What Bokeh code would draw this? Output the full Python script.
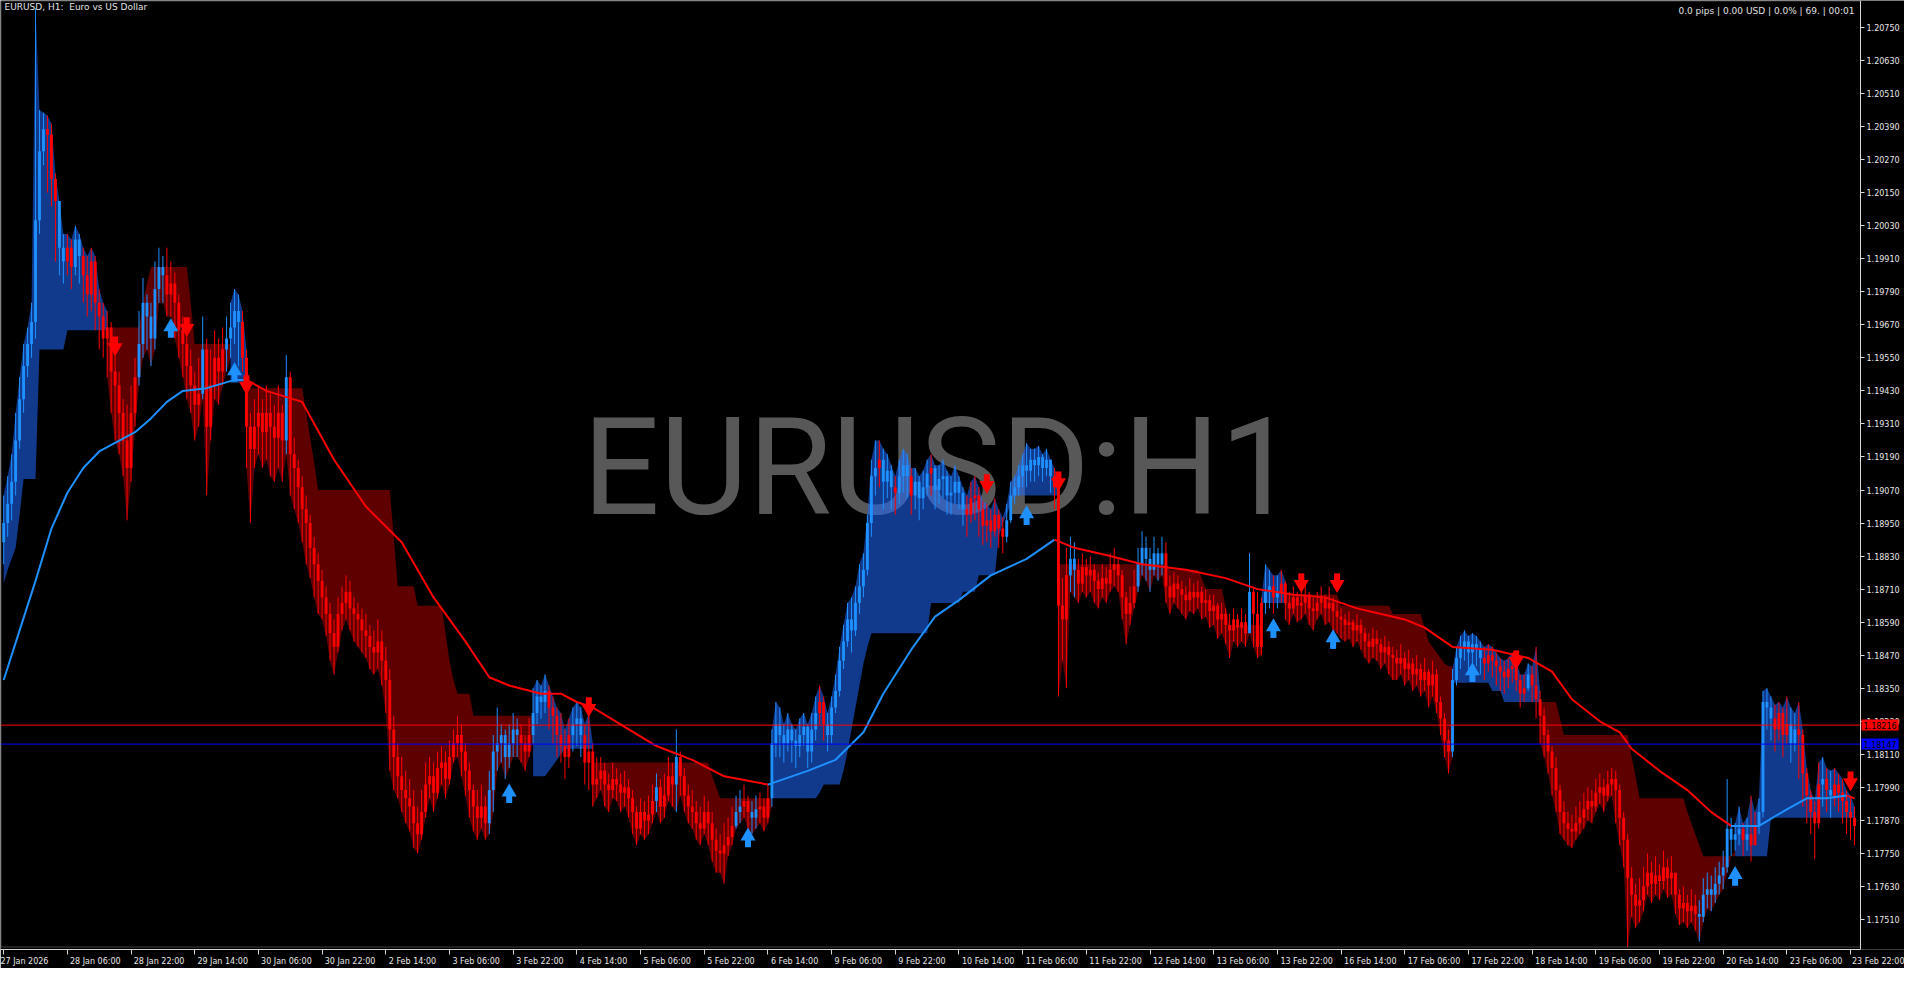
import numpy as np
from bokeh.plotting import figure
from bokeh.models import (Range1d, LinearAxis, FixedTicker, NumeralTickFormatter, Label, BoxAnnotation,
                          ColumnDataSource)
from bokeh.embed import file_html
from bokeh.resources import INLINE

# ---------------- data (prices given in 1/10000 units) ----------------
open0_pts = 11888
close_pts = [
    11895, 11902, 11910, 11925, 11940, 11952, 11960, 11968, 12005, 12030,
    12038, 12036, 12020, 12012, 11995, 11990, 11995, 11988, 11998, 11992,
    11985, 11978, 11990, 11975, 11970, 11962, 11966, 11950, 11945, 11935,
    11925, 11915, 11935, 11948, 11960, 11975, 11970, 11962, 11980, 11988,
    11985, 11978, 11982, 11975, 11965, 11960, 11952, 11945, 11938, 11942,
    11958, 11930, 11945, 11955, 11950, 11958, 11962, 11966, 11972, 11968,
    11955, 11930, 11922, 11930, 11935, 11928, 11935, 11930, 11926, 11935,
    11925, 11948, 11920, 11915, 11908, 11900, 11895, 11886, 11880, 11874,
    11868, 11862, 11855, 11850, 11862, 11866, 11870, 11864, 11862, 11860,
    11856, 11854, 11850, 11848, 11852, 11845, 11838, 11820, 11810, 11803,
    11798, 11795, 11792, 11786, 11782, 11790, 11800, 11803, 11797, 11806,
    11808, 11802, 11810, 11815, 11818, 11812, 11805, 11798, 11792, 11788,
    11792, 11786, 11798, 11812, 11815, 11818, 11810, 11815, 11820, 11818,
    11815, 11812, 11818, 11826, 11832, 11830, 11834, 11828, 11825, 11818,
    11814, 11810, 11818, 11822, 11824, 11818, 11808, 11812, 11800, 11802,
    11805, 11800, 11798, 11802, 11800, 11797, 11799, 11795, 11790, 11784,
    11790, 11787, 11789, 11794, 11799, 11792, 11796, 11803, 11800, 11810,
    11803, 11796, 11792, 11790, 11786, 11784, 11790, 11786, 11780, 11776,
    11775, 11778, 11781, 11785, 11790, 11792, 11794, 11790, 11788, 11791,
    11792, 11788, 11795, 11815, 11822, 11818, 11815, 11820, 11816, 11814,
    11818, 11821, 11812, 11820, 11826, 11830, 11822, 11818, 11828, 11834,
    11845, 11852, 11860, 11856, 11866, 11872, 11878, 11895, 11912, 11915,
    11918, 11910, 11914, 11908, 11906, 11912, 11916, 11912, 11905, 11910,
    11904, 11908, 11913, 11915, 11907, 11911, 11912, 11905, 11906, 11910,
    11906, 11900, 11898, 11904, 11905, 11900, 11894, 11896, 11892, 11898,
    11893, 11890, 11896, 11905, 11908, 11912, 11916, 11914, 11918, 11916,
    11919, 11915, 11918, 11912, 11908, 11865, 11860, 11876, 11882, 11878,
    11873, 11879, 11876, 11878, 11874, 11871, 11875, 11873, 11878, 11880,
    11876, 11868, 11862, 11866, 11872, 11880, 11886, 11882, 11878, 11884,
    11880, 11884, 11872, 11868, 11873, 11871, 11869, 11867, 11870, 11868,
    11870, 11866, 11867, 11863, 11865, 11860, 11862, 11858, 11856, 11860,
    11857, 11859, 11855, 11870, 11862, 11850, 11866, 11870, 11872, 11868,
    11870, 11873, 11866, 11864, 11868, 11865, 11866, 11869, 11864, 11863,
    11866, 11868, 11864, 11866, 11863, 11861, 11860, 11858, 11859, 11856,
    11858, 11855, 11852, 11850, 11853, 11851, 11848, 11850, 11847, 11846,
    11844, 11846, 11842, 11844, 11840, 11842, 11838, 11841, 11836, 11840,
    11830, 11824, 11816, 11812, 11838, 11846, 11850, 11852, 11848, 11851,
    11849, 11846, 11844, 11847, 11845, 11843, 11841, 11839, 11842, 11843,
    11838, 11833, 11835, 11840, 11836, 11831, 11825, 11818, 11812, 11806,
    11798, 11790, 11786, 11784, 11783, 11786, 11788, 11791, 11794, 11792,
    11797, 11799, 11796, 11800, 11802, 11798, 11788, 11780, 11766, 11760,
    11756, 11758, 11763, 11768, 11764, 11767, 11765, 11770, 11766, 11768,
    11760, 11755, 11757, 11754, 11756, 11753, 11752, 11760, 11762, 11760,
    11764, 11767, 11770, 11784, 11780, 11782, 11784, 11780, 11782, 11778,
    11785, 11790, 11830, 11828, 11824, 11820, 11826, 11818, 11822, 11815,
    11820, 11818, 11804, 11796, 11790, 11786, 11800, 11802, 11798, 11796,
    11800, 11797, 11794, 11790, 11788, 11785,
]
high_pts = [
    11905, 11912, 11920, 11935, 11948, 11960, 11966, 11975, 12082, 12045,
    12044, 12043, 12040, 12022, 12012, 12000, 12000, 11998, 12003, 12000,
    11995, 11992, 11995, 11992, 11980, 11975, 11972, 11968, 11958, 11950,
    11940, 11938, 11945, 11955, 11972, 11984, 11978, 11975, 11990, 11995,
    11992, 11995, 11990, 11986, 11978, 11970, 11964, 11958, 11950, 11955,
    11970, 11962, 11958, 11965, 11962, 11966, 11970, 11975, 11980, 11978,
    11972, 11958, 11935, 11940, 11945, 11940, 11945, 11942, 11938, 11945,
    11938, 11956, 11950, 11926, 11918, 11912, 11905, 11898, 11890, 11884,
    11878, 11872, 11866, 11860, 11868, 11872, 11876, 11874, 11868, 11866,
    11864, 11862, 11858, 11856, 11860, 11856, 11850, 11842, 11825, 11815,
    11810, 11805, 11802, 11798, 11792, 11798, 11808, 11810, 11808, 11812,
    11814, 11812, 11816, 11820, 11825, 11822, 11815, 11808, 11800, 11798,
    11800, 11796, 11805, 11818, 11828, 11822, 11820, 11822, 11826, 11824,
    11822, 11818, 11824, 11835, 11838, 11836, 11840, 11836, 11832, 11828,
    11826, 11820, 11824, 11828, 11830, 11828, 11822, 11826, 11815, 11810,
    11810, 11808, 11804, 11808, 11806, 11804, 11805, 11802, 11798, 11792,
    11795, 11794, 11796, 11800, 11804, 11802, 11804, 11810, 11808, 11820,
    11812, 11806, 11800, 11798, 11794, 11792, 11796, 11794, 11790, 11784,
    11782, 11786, 11788, 11792, 11796, 11798, 11800, 11796, 11794, 11796,
    11797, 11795, 11800, 11820, 11830, 11828, 11822, 11826, 11822, 11820,
    11824, 11826, 11822, 11826, 11832, 11836, 11832, 11826, 11832, 11840,
    11850, 11858, 11866, 11868, 11872, 11880, 11884, 11898, 11918, 11925,
    11925, 11922, 11920, 11916, 11912, 11918, 11922, 11920, 11915, 11915,
    11912, 11914, 11918, 11920, 11916, 11916, 11918, 11914, 11912, 11916,
    11912, 11908, 11905, 11910, 11912, 11908, 11903, 11902, 11900, 11904,
    11900, 11897, 11902, 11910, 11912, 11916, 11920, 11924, 11922, 11922,
    11923, 11920, 11922, 11918, 11915, 11911, 11875, 11886, 11890, 11888,
    11882, 11884, 11882, 11883, 11880, 11877, 11880, 11879, 11884, 11886,
    11882, 11878, 11870, 11872, 11878, 11886, 11892, 11890, 11886, 11890,
    11886, 11890, 11888, 11876, 11877, 11876, 11874, 11872, 11875, 11873,
    11874, 11872, 11871, 11869, 11869, 11866, 11866, 11864, 11862, 11864,
    11862, 11864, 11862, 11884, 11872, 11870, 11868, 11880, 11878, 11876,
    11876, 11878, 11874, 11870, 11872, 11870, 11870, 11873, 11870, 11868,
    11870, 11872, 11869, 11872, 11868, 11866, 11864, 11862, 11863, 11860,
    11862, 11860, 11857, 11855, 11857, 11856, 11853, 11854, 11852, 11850,
    11849, 11851, 11848, 11849, 11846, 11847, 11844, 11846, 11842, 11845,
    11842, 11832, 11826, 11820, 11842, 11850, 11854, 11856, 11854, 11855,
    11854, 11852, 11850, 11851, 11850, 11848, 11846, 11845, 11846, 11848,
    11845, 11840, 11840, 11844, 11843, 11850, 11834, 11828, 11820, 11814,
    11810, 11800, 11794, 11790, 11789, 11792, 11794, 11797, 11799, 11798,
    11802, 11804, 11802, 11805, 11806, 11805, 11800, 11790, 11782, 11770,
    11764, 11766, 11770, 11775, 11772, 11774, 11771, 11776, 11773, 11774,
    11767, 11762, 11763, 11760, 11762, 11760, 11758, 11766, 11768, 11767,
    11770, 11772, 11776, 11802, 11788, 11786, 11792, 11786, 11788, 11796,
    11790, 11795, 11834, 11835, 11832, 11829, 11830, 11828, 11832, 11828,
    11826, 11830, 11820, 11806, 11798, 11794, 11808, 11810, 11806, 11805,
    11806, 11804, 11802, 11798, 11796, 11792,
]
low_pts = [
    11880, 11890, 11896, 11905, 11922, 11935, 11948, 11955, 11962, 12000,
    12025, 12015, 12010, 11990, 11985, 11982, 11985, 11980, 11985, 11982,
    11975, 11970, 11972, 11965, 11958, 11955, 11948, 11935, 11925, 11920,
    11912, 11896, 11910, 11930, 11945, 11955, 11958, 11952, 11958, 11975,
    11975, 11970, 11970, 11962, 11955, 11948, 11940, 11935, 11925, 11930,
    11940, 11905, 11925, 11940, 11938, 11945, 11950, 11955, 11960, 11952,
    11950, 11915, 11895, 11915, 11920, 11915, 11918, 11912, 11910, 11915,
    11910, 11920, 11905, 11900, 11895, 11888, 11880, 11875, 11868, 11862,
    11860, 11854, 11845, 11840, 11848, 11856, 11860, 11856, 11852, 11850,
    11848, 11846, 11842, 11840, 11842, 11836, 11826, 11805, 11798, 11795,
    11790, 11786, 11783, 11777, 11775, 11780, 11788, 11795, 11790, 11795,
    11800, 11795, 11800, 11808, 11810, 11803, 11796, 11788, 11783, 11780,
    11784, 11780, 11782, 11790, 11805, 11808, 11802, 11806, 11810, 11810,
    11808, 11805, 11810, 11815, 11822, 11824, 11826, 11820, 11815, 11810,
    11808, 11802, 11806, 11812, 11814, 11810, 11800, 11798, 11792, 11795,
    11798, 11792, 11790, 11795, 11794, 11790, 11792, 11788, 11782, 11778,
    11782, 11780, 11782, 11786, 11790, 11786, 11788, 11794, 11792, 11790,
    11796, 11790, 11786, 11784, 11780, 11778, 11782, 11778, 11772, 11768,
    11768, 11764, 11774, 11778, 11784, 11786, 11788, 11784, 11782, 11784,
    11786, 11783, 11786, 11792, 11810, 11810, 11808, 11812, 11808, 11806,
    11810, 11814, 11806, 11808, 11816, 11822, 11816, 11812, 11815, 11826,
    11832, 11842, 11850, 11848, 11854, 11862, 11868, 11876, 11890, 11905,
    11908, 11900, 11904, 11900, 11898, 11902, 11906, 11904, 11898, 11900,
    11896, 11900, 11905, 11905, 11900, 11902, 11904, 11898, 11898, 11902,
    11900, 11894, 11890, 11895, 11896, 11890, 11887, 11888, 11886, 11890,
    11886, 11884, 11888, 11895, 11902, 11905, 11908, 11908, 11910, 11910,
    11912, 11910, 11912, 11906, 11900, 11832, 11845, 11835, 11870, 11868,
    11866, 11870, 11868, 11870, 11866, 11864, 11868, 11866, 11870, 11872,
    11870, 11860, 11851, 11858, 11864, 11870, 11876, 11874, 11870, 11876,
    11874, 11876, 11866, 11862, 11866, 11864, 11862, 11860, 11863, 11862,
    11864, 11860, 11861, 11857, 11858, 11853, 11855, 11851, 11846, 11852,
    11850, 11852, 11850, 11856, 11850, 11846, 11847, 11862, 11864, 11862,
    11864, 11866, 11860, 11858, 11862, 11859, 11860, 11862, 11858, 11856,
    11860, 11862, 11858, 11859, 11856, 11855, 11853, 11852, 11853, 11850,
    11852, 11849, 11846, 11844, 11846, 11845, 11842, 11844, 11840, 11838,
    11838, 11840, 11836, 11838, 11834, 11836, 11832, 11834, 11828, 11832,
    11826, 11818, 11810, 11804, 11810, 11836, 11842, 11845, 11842, 11844,
    11843, 11840, 11838, 11841, 11839, 11836, 11834, 11833, 11835, 11837,
    11834, 11828, 11830, 11834, 11830, 11824, 11815, 11810, 11804, 11796,
    11790, 11782, 11780, 11778, 11777, 11780, 11782, 11784, 11787, 11786,
    11790, 11793, 11790, 11794, 11796, 11786, 11778, 11770, 11741, 11752,
    11748, 11750, 11754, 11760, 11757, 11760, 11758, 11762, 11759, 11760,
    11753, 11749, 11750, 11748, 11750, 11747, 11743, 11750, 11755, 11754,
    11757, 11760, 11762, 11768, 11774, 11776, 11778, 11774, 11776, 11772,
    11778, 11782, 11788, 11820, 11816, 11812, 11816, 11810, 11815, 11808,
    11812, 11802, 11792, 11786, 11782, 11773, 11784, 11792, 11790, 11788,
    11792, 11790, 11786, 11782, 11780, 11778,
]

# candle colour runs (first bar of each run, 'b' = blue bar, 'r' = red bar)
bar_col_start = [0, 11, 14, 16, 18, 20, 34, 41, 50, 51, 56, 60, 71, 72, 122, 130, 133, 137, 143, 146,
                 164, 165, 169, 170, 184, 186, 188, 190, 193, 205, 207, 220, 221, 224, 225, 228, 229,
                 233, 234, 242, 252, 264, 268, 270, 285, 292, 313, 314, 317, 319, 320, 321, 364, 372,
                 383, 384, 426, 437, 438, 439, 441, 445, 449, 451, 457, 458, 459, 460]
bar_col = ["b", "r"] * 34

# trend of the ribbon indicator (runs)
trend_start = [0, 26, 57, 61, 133, 148, 193, 265, 316, 322, 364, 386, 435]
trend_dir = ["up", "dn", "up", "dn", "up", "dn", "up", "dn", "up", "dn", "up", "dn", "up"]

# stepped stop level of the ribbon (runs, 1/10000 units)
level_start = [0, 1, 2, 3, 4, 5, 9, 16,
               26, 35, 36, 37, 47, 48,
               57,
               61, 76, 77, 78, 79, 98, 99, 104, 111, 112, 113, 114, 118,
               133, 137, 138, 139, 140, 141,
               148, 178, 179, 180,
               193, 205, 206, 211, 212, 213, 214, 215, 216, 217, 218, 233, 241, 245, 250, 251, 252, 253, 254,
               265, 293, 301, 302, 307, 308,
               316,
               322, 336, 349, 357, 358, 359, 360, 361, 362, 363,
               364, 374, 377,
               386, 391, 392, 409, 410, 411, 423, 424, 425, 426, 427,
               435, 444]
level_pts = [11873, 11878, 11882, 11886, 11898, 11911, 11958, 11965,
             11966, 11975, 11982, 11988, 11975, 11960,
             11946,
             11944, 11935, 11926, 11917, 11907, 11890, 11872, 11865, 11855, 11845, 11838, 11833, 11825,
             11803, 11805, 11807, 11809, 11811, 11813,
             11808, 11803, 11799, 11795,
             11795, 11797, 11800, 11805, 11812, 11820, 11828, 11836, 11844, 11850, 11855, 11866, 11870, 11876, 11890, 11895, 11898, 11902, 11905,
             11880, 11878, 11875, 11871, 11865, 11858,
             11866,
             11869, 11865, 11862, 11857, 11852, 11850, 11848, 11846, 11844, 11843,
             11837, 11834, 11830,
             11830, 11824, 11818, 11810, 11803, 11795, 11790, 11786, 11782, 11778, 11774,
             11774, 11788]

# moving average, read at these bars
ma_bar = [0, 4, 8, 12, 16, 20, 24, 33, 37, 41, 45, 51, 58, 61, 66, 75, 83, 91, 100, 108, 116, 122, 127,
          135, 140, 144, 148, 156, 164, 173, 181, 192, 202, 209, 216, 221, 228, 234, 240, 248, 257, 264,
          269, 278, 286, 297, 307, 315, 324, 332, 340, 352, 357, 364, 374, 383, 389, 394, 401, 406, 409,
          416, 423, 429, 434, 441, 448, 453, 458, 463, 465]
ma_pts = [11838, 11856, 11874, 11893, 11906, 11915, 11921, 11928, 11933, 11939, 11943, 11944, 11947, 11947,
          11943, 11939, 11918, 11901, 11888, 11868, 11852, 11839, 11836, 11833, 11833, 11830, 11828, 11821,
          11814, 11809, 11803, 11800, 11805, 11809, 11819, 11833, 11849, 11861, 11867, 11876, 11882, 11889,
          11886, 11883, 11880, 11878, 11875, 11871, 11869, 11868, 11864, 11860, 11857, 11850, 11849, 11846,
          11841, 11831, 11823, 11819, 11813, 11805, 11798, 11790, 11785, 11785, 11791, 11795, 11795, 11796,
          11795]
ma_col_start = [0, 61, 192, 264, 434, 463]
ma_col = ["b", "r", "b", "r", "b", "r"]

# signal arrows
up_bar = [42, 58, 127, 187, 257, 319, 334, 369, 435]
up_pts = [11965, 11949, 11796, 11780, 11897, 11856, 11852, 11840, 11766]
down_bar = [28, 46, 61, 147, 247, 265, 326, 335, 380, 464]
down_pts = [11960, 11967, 11946, 11829, 11910, 11911, 11874, 11874, 11846, 11802]

# axis labels
x_tick_bars = list(range(0, 465, 16))
x_tick_labels = ["27 Jan 2026", "28 Jan 06:00", "28 Jan 22:00", "29 Jan 14:00", "30 Jan 06:00",
                 "30 Jan 22:00", "2 Feb 14:00", "3 Feb 06:00", "3 Feb 22:00", "4 Feb 14:00",
                 "5 Feb 06:00", "5 Feb 22:00", "6 Feb 14:00", "9 Feb 06:00", "9 Feb 22:00",
                 "10 Feb 14:00", "11 Feb 06:00", "11 Feb 22:00", "12 Feb 14:00", "13 Feb 06:00",
                 "13 Feb 22:00", "16 Feb 14:00", "17 Feb 06:00", "17 Feb 22:00", "18 Feb 14:00",
                 "19 Feb 06:00", "19 Feb 22:00", "20 Feb 14:00", "23 Feb 06:00", "23 Feb 22:00"]
y_ticks = [round(1.17510 + 0.0012 * k, 5) for k in range(28)]
bid_price = 1.18216
ask_price = 1.18147
symbol_text = "EURUSD, H1:\u00a0 Euro vs US Dollar"
info_text = "0.0 pips | 0.00 USD | 0.0% | 69. | 00:01"
watermark_text = "EURUSD:H1"

# ---------------- derived arrays ----------------
N = len(close_pts)
idx = np.arange(N)


def runs(starts, vals, n):
    b = list(starts) + [n]
    out = []
    for k, v in enumerate(vals):
        out += [v] * (b[k + 1] - b[k])
    return out


close = np.array(close_pts) / 1e4
opn = np.concatenate([[open0_pts / 1e4], close[:-1]])
high = np.maximum.reduce([np.array(high_pts) / 1e4, opn, close])
low = np.minimum.reduce([np.array(low_pts) / 1e4, opn, close])
BLUE, RED = "#1e90ff", "#ff0000"
FILL_UP, FILL_UP_ALPHA, FILL_DN = "#1f69ff", 0.55, "#5e0000"
cols = [BLUE if c == "b" else RED for c in runs(bar_col_start, bar_col, N)]
level = np.array(runs(level_start, level_pts, N)) / 1e4

# ---------------- figure ----------------
W, H = 1904, 968
BB = 18
FW, FH = W, H - BB
CHART_W = 1860                        # width of the candle area, price scale to its right
X0 = -0.8
ppx = CHART_W / 467.3
X1 = X0 + FW / ppx
X_EDGE = X0 + CHART_W / ppx
Y0, Y1 = 1.17401, 1.20848
ppy = FH / (Y1 - Y0)

p = figure(width=W, height=H, output_backend="svg", toolbar_location=None,
           x_range=Range1d(X0, X1), y_range=Range1d(Y0, Y1),
           x_axis_location=None, y_axis_location=None,
           min_border_left=0, min_border_top=0, min_border_right=0, min_border_bottom=BB,
           background_fill_color="#000000", border_fill_color="#000000",
           outline_line_color=None)
p.grid.visible = False

AX_COL = "#d6d6d6"
LBL_COL = "#e8e8e8"
FONT = "DejaVu Sans"

yax = LinearAxis(ticker=FixedTicker(ticks=y_ticks), formatter=NumeralTickFormatter(format="0.00000"),
                 fixed_location=X_EDGE,
                 axis_line_color=AX_COL, major_tick_line_color=AX_COL, minor_tick_line_color=None,
                 major_tick_out=4, major_tick_in=0, major_label_standoff=2,
                 major_label_text_color=LBL_COL, major_label_text_font=FONT,
                 major_label_text_font_size="8px")
p.add_layout(yax, "right")

# bottom labels: pad with no-break spaces so that each label starts at its tick (as in MT5)
EM = {"0": .636, "1": .636, "2": .636, "3": .636, "4": .636, "5": .636, "6": .636, "7": .636, "8": .636,
      "9": .636, " ": .318, ":": .337, "J": .295, "a": .613, "n": .634, "F": .575, "e": .615, "b": .635}
XFS = 8.0
overrides = {}
for t, s in zip(x_tick_bars, x_tick_labels):
    w = sum(EM.get(ch, .6) for ch in s) * XFS
    n = 0 if t == x_tick_bars[0] else int(round((w + 6) / (0.318 * XFS)))
    overrides[t] = "\u00a0" * n + s
xax = LinearAxis(ticker=FixedTicker(ticks=x_tick_bars), major_label_overrides=overrides,
                 bounds=(X0, X_EDGE),
                 axis_line_color=AX_COL, major_tick_line_color=AX_COL, minor_tick_line_color=None,
                 major_tick_out=5, major_tick_in=0, major_label_standoff=2,
                 major_label_text_color=LBL_COL, major_label_text_font=FONT,
                 major_label_text_font_size="8px")
p.add_layout(xax, "below")

# chart box
p.add_layout(BoxAnnotation(left=X0 + 0.5 / ppx, right=X_EDGE, top=Y1 - 0.5 / ppy, bottom=Y0 + 2.5 / ppy,
                           fill_color=None, line_color=AX_COL, line_width=1))

# watermark (drawn first; the blue ribbon lets it show through)
p.add_layout(Label(x=X0 + 939 / ppx, y=Y1 - 467 / ppy, text=watermark_text,
                   text_font="Roboto", text_font_size="136px",
                   text_color="#585858", text_align="center", text_baseline="middle", level="underlay"))

# ribbon fills
b = trend_start + [N]
for k, d in enumerate(trend_dir):
    s, e = b[k], b[k + 1]
    e2 = min(e, N - 1)
    xs = idx[s:e2 + 1]
    y1 = level[s:e] if e >= N else np.append(level[s:e], level[e - 1])
    y2 = (high if d == "up" else low)[s:e2 + 1]
    if d == "up":
        p.varea(x=xs, y1=y1, y2=y2, fill_color=FILL_UP, fill_alpha=FILL_UP_ALPHA)
    else:
        p.varea(x=xs, y1=y1, y2=y2, fill_color=FILL_DN)

# candles
top = np.maximum(opn, close)
bot = np.minimum(opn, close)
bot = np.where(top - bot < 0.00004, top - 0.00004, bot)
src = ColumnDataSource(dict(x=idx, h=high, l=low, top=top, bot=bot, col=cols))
p.segment(x0="x", y0="h", x1="x", y1="l", line_color="col", line_width=1, source=src)
p.vbar(x="x", width=0.72, top="top", bottom="bot", fill_color="col", line_color=None, source=src)

# moving average
mi = np.array(ma_bar)
mv = np.array(ma_pts) / 1e4
mb = ma_col_start + [N]
for k, c in enumerate(ma_col):
    m = (mi >= mb[k]) & (mi <= mb[k + 1])
    p.line(mi[m], mv[m], line_color=BLUE if c == "b" else RED, line_width=2)

# arrows
ux, uy = np.array(up_bar), np.array(up_pts) / 1e4
dx, dy = np.array(down_bar), np.array(down_pts) / 1e4
p.rect(x=ux, y=uy - 3.5 / ppy, width=6, height=8, width_units="screen", height_units="screen",
       fill_color=BLUE, line_color=None)
p.scatter(x=ux, y=uy + 3.5 / ppy, marker="triangle", size=15, fill_color=BLUE, line_color=None)
p.rect(x=dx, y=dy + 3.5 / ppy, width=6, height=8, width_units="screen", height_units="screen",
       fill_color=RED, line_color=None)
p.scatter(x=dx, y=dy - 3.5 / ppy, marker="inverted_triangle", size=15, fill_color=RED, line_color=None)

# bid / ask lines and their price boxes
p.segment(x0=[X0, X0], y0=[bid_price, ask_price], x1=[X_EDGE, X_EDGE], y1=[bid_price, ask_price],
          line_color=["#ff0000", "#0000ff"], line_width=1)
p.add_layout(Label(x=X_EDGE + 1 / ppx, y=bid_price, text=f"{bid_price:.5f}", text_font=FONT,
                   text_font_size="8px", text_color="#000000", text_align="left", text_baseline="middle",
                   background_fill_color="#ff0000", padding=2))
p.add_layout(Label(x=X_EDGE + 1 / ppx, y=ask_price, text=f"{ask_price:.5f}", text_font=FONT,
                   text_font_size="8px", text_color="#000000", text_align="left", text_baseline="middle",
                   background_fill_color="#0000ff", padding=2))

# texts at the top
p.add_layout(Label(x=X0 + 4 / ppx, y=Y1 - 2 / ppy, text=symbol_text, text_font=FONT,
                   text_font_size="9px", text_color="#e0e0e0", text_align="left", text_baseline="top"))
p.add_layout(Label(x=X_EDGE - 6 / ppx, y=Y1 - 6 / ppy, text=info_text, text_font=FONT,
                   text_font_size="9px", text_color="#e0e0e0", text_align="right", text_baseline="top"))

open("out.html", "w").write(file_html(p, INLINE))
